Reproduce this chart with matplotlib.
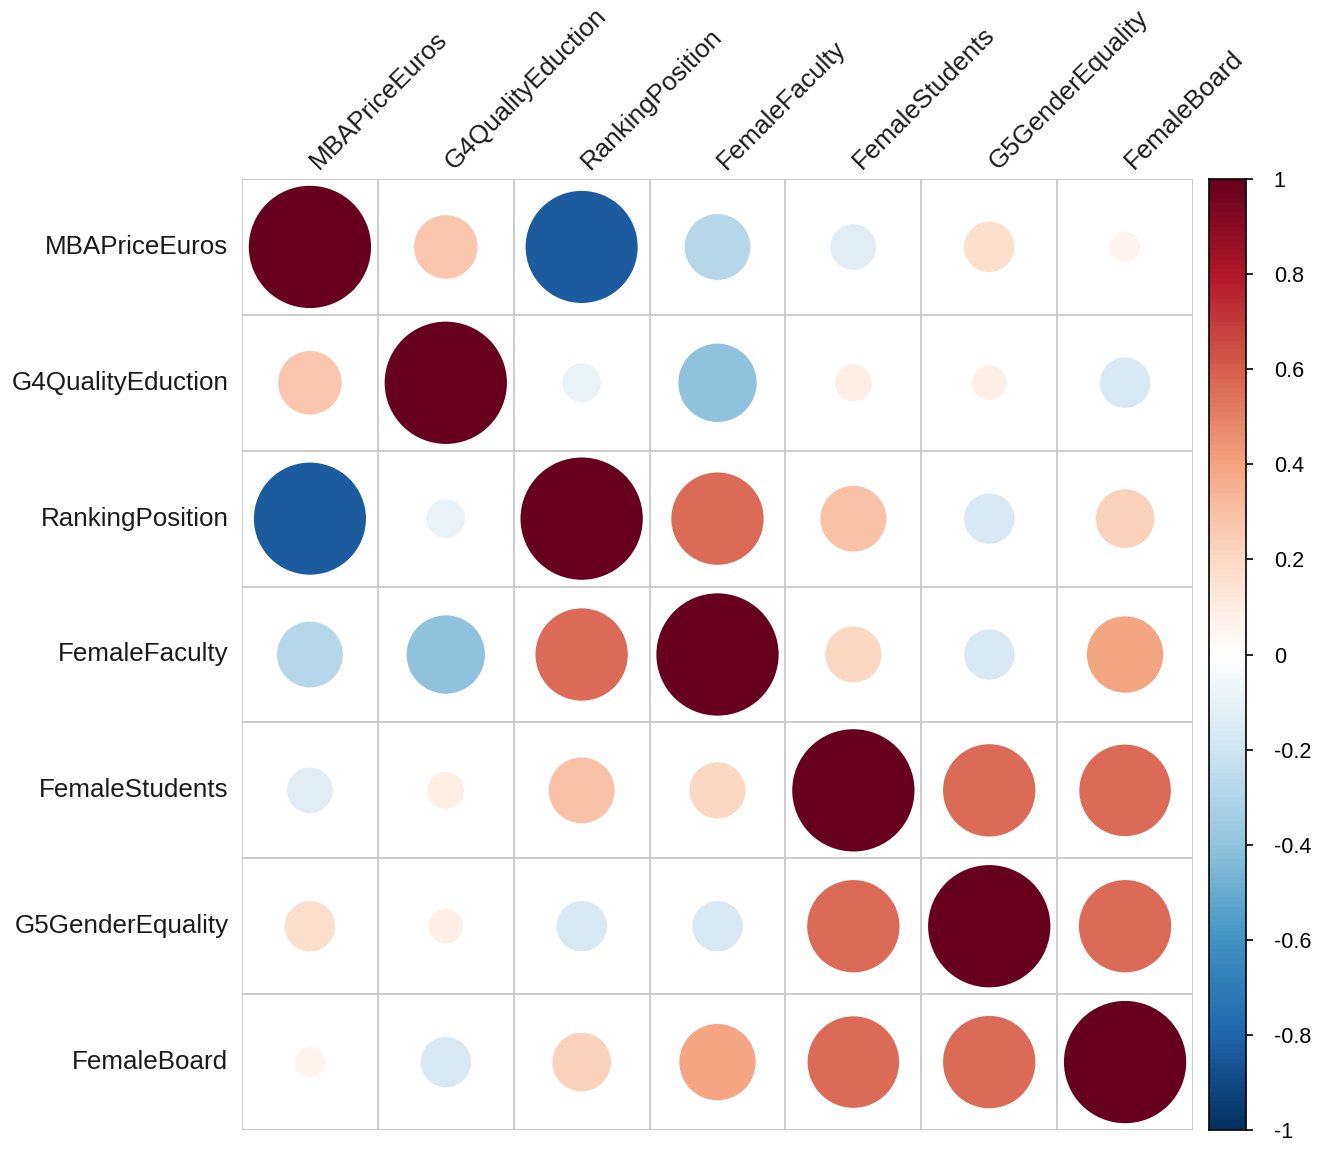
import numpy as np
import matplotlib.pyplot as plt
from matplotlib.colors import LinearSegmentedColormap
from matplotlib.patches import Circle

variables = ["MBAPriceEuros", "G4QualityEduction", "RankingPosition", "FemaleFaculty",
             "FemaleStudents", "G5GenderEquality", "FemaleBoard"]

# upper triangle of the correlation matrix
corr_mba = [1.00, 0.27, -0.84, -0.29, -0.14, 0.17, 0.06]
corr_g4 = [0.27, 1.00, -0.10, -0.41, 0.09, 0.08, -0.17]
corr_rank = [-0.84, -0.10, 1.00, 0.57, 0.29, -0.17, 0.23]
corr_ff = [-0.29, -0.41, 0.57, 1.00, 0.21, -0.17, 0.39]
corr_fs = [-0.14, 0.09, 0.29, 0.21, 1.00, 0.57, 0.56]
corr_g5 = [0.17, 0.08, -0.17, -0.17, 0.57, 1.00, 0.57]
corr_fb = [0.06, -0.17, 0.23, 0.39, 0.56, 0.57, 1.00]

cbar_ticks = [1, 0.8, 0.6, 0.4, 0.2, 0, -0.2, -0.4, -0.6, -0.8, -1]

corr = np.array([corr_mba, corr_g4, corr_rank, corr_ff, corr_fs, corr_g5, corr_fb])
n = len(variables)

rdbu = ["#053061", "#2166AC", "#4393C3", "#92C5DE", "#D1E5F0", "#FFFFFF",
        "#FDDBC7", "#F4A582", "#D6604D", "#B2182B", "#67001F"]
cmap = LinearSegmentedColormap.from_list("corrplot", rdbu, N=200)

W, H = 1320, 1168
fig = plt.figure(figsize=(W / 100, H / 100), dpi=100)
plt.rcParams['font.family'] = ['Liberation Sans', 'DejaVu Sans']

gx0, gx1, gy0, gy1 = 242, 1193, 179, 1130
ax = fig.add_axes([gx0 / W, 1 - gy1 / H, (gx1 - gx0) / W, (gy1 - gy0) / H])
ax.set_xlim(0.5, n + 0.5)
ax.set_ylim(n + 0.5, 0.5)
ax.set_axis_off()

for k in range(n + 1):
    ax.plot([0.5, n + 0.5], [k + 0.5, k + 0.5], color="#C8C8C8", lw=1.3, zorder=1)
    ax.plot([k + 0.5, k + 0.5], [0.5, n + 0.5], color="#C8C8C8", lw=1.3, zorder=1)

for i in range(n):
    for j in range(n):
        r = corr[i, j]
        rad = 0.45 * np.sqrt(abs(r))
        ax.add_patch(Circle((j + 1, i + 1), rad, facecolor=cmap((r + 1) / 2),
                            edgecolor="none", zorder=2))

for i, name in enumerate(variables):
    ax.text(0.5 - 0.1, i + 1, name, ha="right", va="center", fontsize=18.7, color="#1a1a1a")
    ax.text(i + 1 + 0.09, 0.5 - 0.04, name, ha="left", va="bottom", fontsize=18.7,
            rotation=45, rotation_mode="anchor", color="#1a1a1a")

# colour legend
cax = fig.add_axes([1209 / W, 1 - gy1 / H, 37 / W, (gy1 - gy0) / H])
grad = np.linspace(1, -1, 200).reshape(-1, 1)
cax.imshow(grad, cmap=cmap, vmin=-1, vmax=1, aspect="auto", extent=[0, 1, -1, 1])
cax.set_xticks([])
cax.yaxis.tick_right()
cax.set_yticks(cbar_ticks)
cax.set_yticklabels([f"{t:g}" for t in cbar_ticks], fontsize=15.5)
cax.tick_params(axis="y", length=5, width=1.2, pad=15, color="black")
for s in cax.spines.values():
    s.set_linewidth(1.2)

fig.savefig("out.png", dpi=100, facecolor="white")
